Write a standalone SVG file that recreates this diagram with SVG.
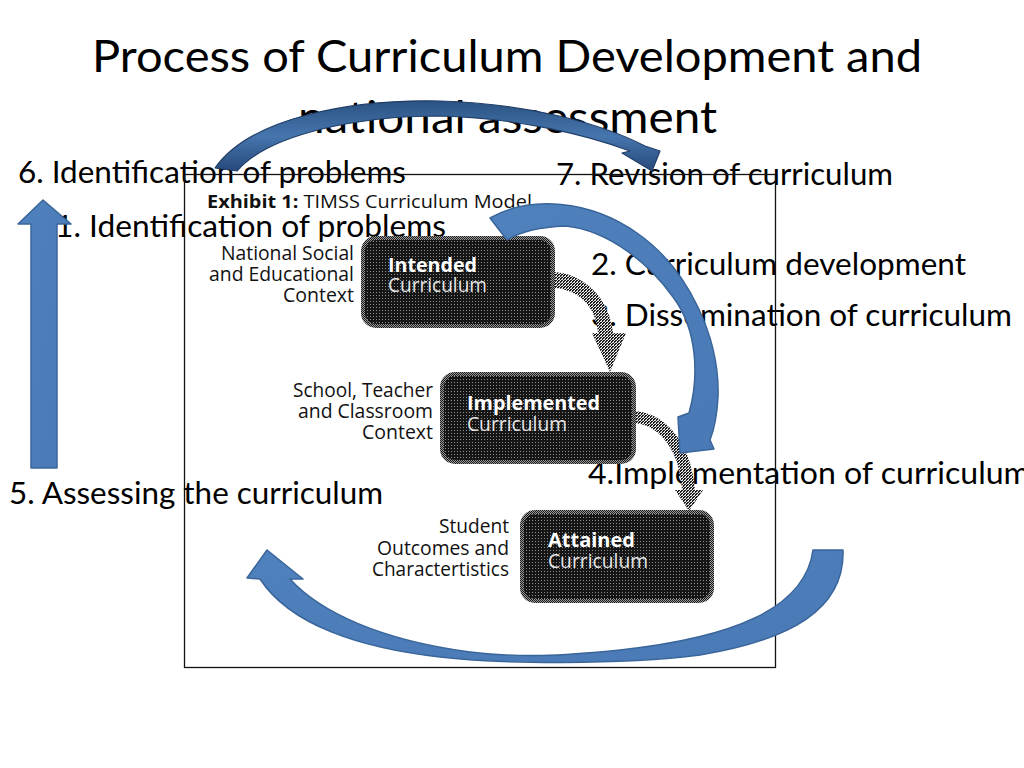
<svg xmlns="http://www.w3.org/2000/svg" width="1024" height="768" viewBox="0 0 1024 768">
  <defs>
    <pattern id="darkDither" width="3" height="3" patternUnits="userSpaceOnUse">
      <rect width="3" height="3" fill="#161616"/>
      <rect x="1" y="1" width="1" height="1" fill="#8c8c8c"/>
    </pattern>
    <pattern id="edgeDither" width="2" height="2" patternUnits="userSpaceOnUse">
      <rect width="2" height="2" fill="#9a9a9a"/>
      <rect width="1" height="1" fill="#1a1a1a"/>
      <rect x="1" y="1" width="1" height="1" fill="#1a1a1a"/>
    </pattern>
    <pattern id="grayDither" width="3" height="3" patternUnits="userSpaceOnUse">
      <rect width="3" height="3" fill="#1e1e1e"/>
      <rect x="0" y="0" width="1" height="1" fill="#f0f0f0"/>
      <rect x="2" y="1" width="1" height="1" fill="#f0f0f0"/>
      <rect x="1" y="2" width="1" height="1" fill="#f0f0f0"/>
      <rect x="1" y="0" width="1" height="1" fill="#bdbdbd"/>
    </pattern>
    <linearGradient id="topArcGrad" x1="0" y1="0" x2="0" y2="1">
      <stop offset="0" stop-color="#2b5282"/>
      <stop offset="0.5" stop-color="#4676ae"/>
      <stop offset="1" stop-color="#27497a"/>
    </linearGradient>
    <linearGradient id="blueGrad" x1="0" y1="0" x2="1" y2="1">
      <stop offset="0" stop-color="#4f81bd"/>
      <stop offset="1" stop-color="#4a7ab5"/>
    </linearGradient>
  </defs>
  <style>
    .title { font-family: Lato, "Open Sans", "Liberation Sans", sans-serif; font-size: 45px; fill: #000; }
    .lbl { font-family: Lato, "Open Sans", "Liberation Sans", sans-serif; font-size: 31px; fill: #000; }
    .ctx { font-family: "Open Sans", "Noto Sans", "Liberation Sans", sans-serif; font-size: 19.5px; fill: #111; text-anchor: end; }
    .ex { font-family: "Open Sans", "Noto Sans", "Liberation Sans", sans-serif; font-size: 17.5px; fill: #111; }
    .nb { font-family: "Open Sans", "Noto Sans", "Liberation Sans", sans-serif; font-size: 20px; font-weight: bold; fill: #ffffff; }
    .nr { font-family: "Open Sans", "Noto Sans", "Liberation Sans", sans-serif; font-size: 20px; fill: #e6e6e6; }
    .node { fill: url(#darkDither); stroke: url(#edgeDither); stroke-width: 4; }
    .conn { fill: url(#grayDither); }
    .blue { fill: url(#blueGrad); stroke: #3a659a; stroke-width: 1.5; stroke-linejoin: round; }
  </style>

  <rect width="1024" height="768" fill="#ffffff"/>

  <!-- Title -->
  <g id="title">
    <text class="title" x="92" y="72" textLength="830" lengthAdjust="spacingAndGlyphs">Process of Curriculum Development and</text>
    <text class="title" x="298" y="133" textLength="419" lengthAdjust="spacingAndGlyphs">national assessment</text>
  </g>

  <!-- Step labels -->
  <g id="step-labels">
    <text id="step6" class="lbl" x="18" y="183" textLength="388" lengthAdjust="spacingAndGlyphs">6. Identification of problems</text>
    <text id="step7" class="lbl" x="556" y="185" textLength="337" lengthAdjust="spacingAndGlyphs">7. Revision of curriculum</text>
    <text id="step1" class="lbl" x="55" y="237" textLength="391" lengthAdjust="spacingAndGlyphs">1. Identification of problems</text>
    <text id="step2" class="lbl" x="591" y="275" textLength="375" lengthAdjust="spacingAndGlyphs">2. Curriculum development</text>
    <text id="step3" class="lbl" x="591" y="326" textLength="421" lengthAdjust="spacingAndGlyphs">3. Dissemination of curriculum</text>
    <text id="step4" class="lbl" x="588" y="484" textLength="442" lengthAdjust="spacingAndGlyphs">4.Implementation of curriculum</text>
    <text id="step5" class="lbl" x="9" y="504" textLength="374" lengthAdjust="spacingAndGlyphs">5. Assessing the curriculum</text>
  </g>

  <!-- Exhibit: TIMSS Curriculum Model -->
  <g id="exhibit">
    <rect x="184.5" y="174.5" width="591" height="493" fill="none" stroke="#111" stroke-width="1.3"/>
    <text class="ex" x="207" y="208" textLength="325" lengthAdjust="spacingAndGlyphs"><tspan font-weight="bold">Exhibit 1:</tspan> TIMSS Curriculum Model</text>

    <g id="ctx-national">
      <text class="ctx" x="354" y="260" textLength="133" lengthAdjust="spacingAndGlyphs">National Social</text>
      <text class="ctx" x="354" y="281" textLength="145" lengthAdjust="spacingAndGlyphs">and Educational</text>
      <text class="ctx" x="354" y="302" textLength="71" lengthAdjust="spacingAndGlyphs">Context</text>
    </g>
    <g id="ctx-school">
      <text class="ctx" x="433" y="397" textLength="140" lengthAdjust="spacingAndGlyphs">School, Teacher</text>
      <text class="ctx" x="433" y="418" textLength="135" lengthAdjust="spacingAndGlyphs">and Classroom</text>
      <text class="ctx" x="433" y="439" textLength="71" lengthAdjust="spacingAndGlyphs">Context</text>
    </g>
    <g id="ctx-student">
      <text class="ctx" x="509" y="533" textLength="70" lengthAdjust="spacingAndGlyphs">Student</text>
      <text class="ctx" x="509" y="555" textLength="132" lengthAdjust="spacingAndGlyphs">Outcomes and</text>
      <text class="ctx" x="509" y="576" textLength="137" lengthAdjust="spacingAndGlyphs">Charactertistics</text>
    </g>

    <g id="model-connectors">
      <path class="conn" d="M553,272 C581,273 609,295 613,333 L626,333 L610,372 L592,333 L598,333 C596,306 578,289 553,288 Z"/>
      <path class="conn" d="M634,411 C663,412 691,440 695,490 L703,490 L689,511 L675,490 L682,490 C680,451 660,425 634,423 Z"/>
    </g>

    <g id="node-intended">
      <rect class="node" x="363" y="238" width="190" height="88" rx="13"/>
      <text class="nb" x="388" y="272" textLength="89" lengthAdjust="spacingAndGlyphs">Intended</text>
      <text class="nr" x="388" y="292" textLength="99" lengthAdjust="spacingAndGlyphs">Curriculum</text>
    </g>
    <g id="node-implemented">
      <rect class="node" x="442" y="374" width="192" height="88" rx="13"/>
      <text class="nb" x="467" y="410" textLength="133" lengthAdjust="spacingAndGlyphs">Implemented</text>
      <text class="nr" x="467" y="431" textLength="100" lengthAdjust="spacingAndGlyphs">Curriculum</text>
    </g>
    <g id="node-attained">
      <rect class="node" x="522" y="512" width="190" height="89" rx="13"/>
      <text class="nb" x="548" y="547" textLength="87" lengthAdjust="spacingAndGlyphs">Attained</text>
      <text class="nr" x="548" y="568" textLength="100" lengthAdjust="spacingAndGlyphs">Curriculum</text>
    </g>
  </g>

  <!-- Blue process arrows -->
  <g id="process-arrows">
    <path id="arrow-up" class="blue" d="M31,468 L31,224 L18,224 L43,200 L71,224 L57,224 L57,468 Z"/>
    <path id="arrow-top" fill="url(#topArcGrad)" stroke="#213f68" stroke-width="1.2" stroke-linejoin="round"
          d="M215,168 C250,118 350,99 440,101 C530,104 600,123 645,146 L660,151 L652,171 L622,153 L630,151 C590,136 520,118 440,116 C360,116 270,133 237,171 Z"/>
    <path id="arrow-right" class="blue"
          d="M490,218 C530,195 590,200 637,233 C690,270 720,340 718,397 C717,415 714,430 710,440 L714,449 L680,453 L678,417 L689,413 C699,378 698,330 673,297 C651,266 610,230 565,226 C540,227 520,232 507,240 Z"/>
    <path id="arrow-bottom" class="blue"
          d="M843,550 C845,610 790,640 700,655 C620,665 500,664 440,657 C360,648 290,625 260,579 L247,578 L267,550 L303,579 L290,579 C320,612 380,640 470,652 C520,658 560,656 620,650 C730,638 805,610 813,550 Z"/>
  </g>
</svg>
